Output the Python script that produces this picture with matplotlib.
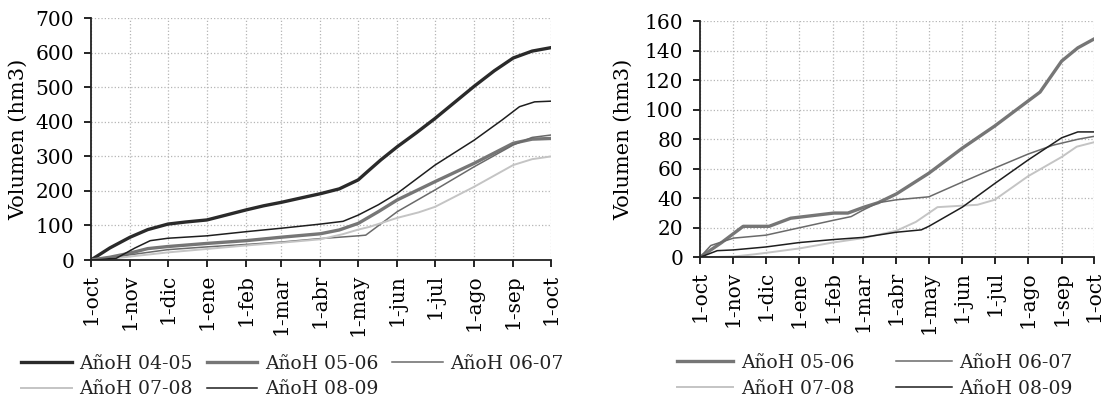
import matplotlib

matplotlib.use("Agg")

import matplotlib.pyplot as plt

plt.rcParams["font.family"] = ["DejaVu Serif"]
plt.rcParams["text.color"] = "#222222"

MONTH_DAYS = [0, 31, 61, 92, 123, 151, 182, 212, 243, 273, 304, 335, 365]
MONTH_LABELS = ["1-oct", "1-nov", "1-dic", "1-ene", "1-feb", "1-mar", "1-abr",
                "1-may", "1-jun", "1-jul", "1-ago", "1-sep", "1-oct"]

# left chart: cumulative volume per hydrological year (hm3)
L0405_DAYS = [0, 15, 31, 45, 61, 75, 92, 107, 123, 137, 151, 167, 182, 197, 212, 220, 230,
              243, 258, 273, 288, 304, 320, 335, 350, 365]
L0405_VALS = [0, 35, 66, 88, 104, 110, 116, 130, 145, 157, 167, 180, 192, 206, 232, 258, 290,
              328, 368, 410, 455, 503, 548, 585, 605, 615]
L0506_DAYS = [0, 15, 31, 45, 61, 92, 123, 151, 182, 197, 212, 228, 243, 273, 304, 335, 350, 365]
L0506_VALS = [0, 8, 20, 33, 39, 48, 56, 66, 76, 87, 106, 140, 174, 227, 280, 338, 350, 352]
L0607_DAYS = [0, 15, 31, 61, 92, 123, 151, 182, 212, 218, 243, 273, 304, 335, 350, 365]
L0607_VALS = [0, 5, 15, 30, 38, 45, 52, 62, 70, 72, 140, 203, 270, 333, 355, 362]
L0708_DAYS = [0, 15, 31, 61, 92, 123, 151, 182, 200, 212, 221, 243, 260, 273, 304, 335, 350, 365]
L0708_VALS = [0, 3, 10, 22, 32, 42, 50, 60, 75, 88, 96, 122, 138, 154, 212, 275, 292, 300]
L0809_DAYS = [0, 20, 35, 47, 61, 92, 123, 151, 182, 200, 212, 228, 243, 273, 304, 326, 340,
              352, 365]
L0809_VALS = [0, 5, 35, 56, 63, 70, 82, 92, 104, 112, 130, 160, 193, 275, 347, 405, 444,
              458, 460]

# right chart
R0506_DAYS = [0, 20, 40, 64, 84, 124, 137, 152, 165, 182, 212, 243, 273, 304, 315, 335, 350, 365]
R0506_VALS = [0, 10, 21, 21, 26.5, 30, 30, 34, 37, 43, 57, 74, 89, 106, 112, 133, 142, 148]
R0607_DAYS = [0, 10, 31, 61, 92, 123, 140, 151, 165, 182, 212, 243, 273, 304, 327, 350, 365]
R0607_VALS = [0, 8, 13, 15, 20, 25, 27.6, 32, 37, 39, 41, 51, 60.5, 70, 76, 80, 82]
R0708_DAYS = [0, 31, 50, 61, 92, 123, 151, 182, 200, 212, 220, 257, 273, 304, 335, 349, 365]
R0708_VALS = [0, 0.5, 2, 3, 6, 10, 13, 18, 24, 30, 34, 35.6, 39, 55, 68, 75, 78]
R0809_DAYS = [0, 16, 31, 61, 92, 123, 151, 182, 205, 212, 243, 273, 304, 335, 350, 365]
R0809_VALS = [0, 4.5, 5, 7, 10, 12, 13.5, 17, 18.6, 21, 34, 50, 66, 81, 85, 85]

STYLES = {
    "AñoH 04-05": dict(color="#2a2a2a", lw=2.4),
    "AñoH 05-06": dict(color="#767676", lw=2.4),
    "AñoH 06-07": dict(color="#6a6a6a", lw=1.1),
    "AñoH 07-08": dict(color="#c4c4c4", lw=1.4),
    "AñoH 08-09": dict(color="#1e1e1e", lw=1.1),
}


def style_axis(ax, ymax, ystep):
    ax.set_xlim(0, 365)
    ax.set_ylim(0, ymax)
    ax.set_xticks(MONTH_DAYS)
    ax.set_xticklabels(MONTH_LABELS, rotation=90, fontsize=14.5)
    ax.set_yticks(range(0, ymax + 1, ystep))
    ax.tick_params(axis="y", labelsize=14.5, direction="out", length=5, width=1.2, pad=7)
    ax.tick_params(axis="x", direction="out", length=5, width=1.2, pad=5)
    ax.grid(True, color="#b5b5b5", linestyle=":", linewidth=0.9)
    for side in ("top", "right"):
        ax.spines[side].set_visible(False)
    for side in ("left", "bottom"):
        ax.spines[side].set_linewidth(1.3)
        ax.spines[side].set_color("#222222")
    ax.set_ylabel("Volumen (hm3)", fontsize=15)


def row_order(handles, ncol):
    # legend fills by column; reorder so entries read row by row
    nrow = -(-len(handles) // ncol)
    return [handles[r * ncol + c] for c in range(ncol) for r in range(nrow)
            if r * ncol + c < len(handles)]


fig = plt.figure(figsize=(11.04, 4.01), dpi=100)

ax1 = fig.add_axes([91 / 1104, 1 - 260 / 401, 460 / 1104, 241.7 / 401])
left_series = [
    ("AñoH 04-05", L0405_DAYS, L0405_VALS),
    ("AñoH 05-06", L0506_DAYS, L0506_VALS),
    ("AñoH 06-07", L0607_DAYS, L0607_VALS),
    ("AñoH 07-08", L0708_DAYS, L0708_VALS),
    ("AñoH 08-09", L0809_DAYS, L0809_VALS),
]
lines1 = [ax1.plot(d, v, label=n, **STYLES[n])[0] for n, d, v in left_series]
style_axis(ax1, 700, 100)
ax1.yaxis.set_label_coords(-0.137, 0.5)
h1 = row_order(lines1, 3)
ax1.legend(h1, [h.get_label() for h in h1], loc="upper left",
           bbox_to_anchor=(21 / 1104, 1 - 355 / 401),
           bbox_transform=fig.transFigure, ncol=3, frameon=False, fontsize=13.5,
           handlelength=2.7, handletextpad=0.4, columnspacing=0.75, labelspacing=0.4,
           borderpad=0, borderaxespad=0)

ax2 = fig.add_axes([700 / 1104, 1 - 257.3 / 401, 394 / 1104, 236 / 401])
right_series = [
    ("AñoH 05-06", R0506_DAYS, R0506_VALS),
    ("AñoH 06-07", R0607_DAYS, R0607_VALS),
    ("AñoH 07-08", R0708_DAYS, R0708_VALS),
    ("AñoH 08-09", R0809_DAYS, R0809_VALS),
]
lines2 = [ax2.plot(d, v, label=n, **STYLES[n])[0] for n, d, v in right_series]
style_axis(ax2, 160, 20)
ax2.yaxis.set_label_coords(-0.170, 0.5)
h2 = row_order(lines2, 2)
ax2.legend(h2, [h.get_label() for h in h2], loc="upper left",
           bbox_to_anchor=(677 / 1104, 1 - 354 / 401),
           bbox_transform=fig.transFigure, ncol=2, frameon=False, fontsize=13.5,
           handlelength=3.0, handletextpad=0.4, columnspacing=2.2, labelspacing=0.4,
           borderpad=0, borderaxespad=0)

fig.savefig("out.png", dpi=100)
plt.close(fig)
